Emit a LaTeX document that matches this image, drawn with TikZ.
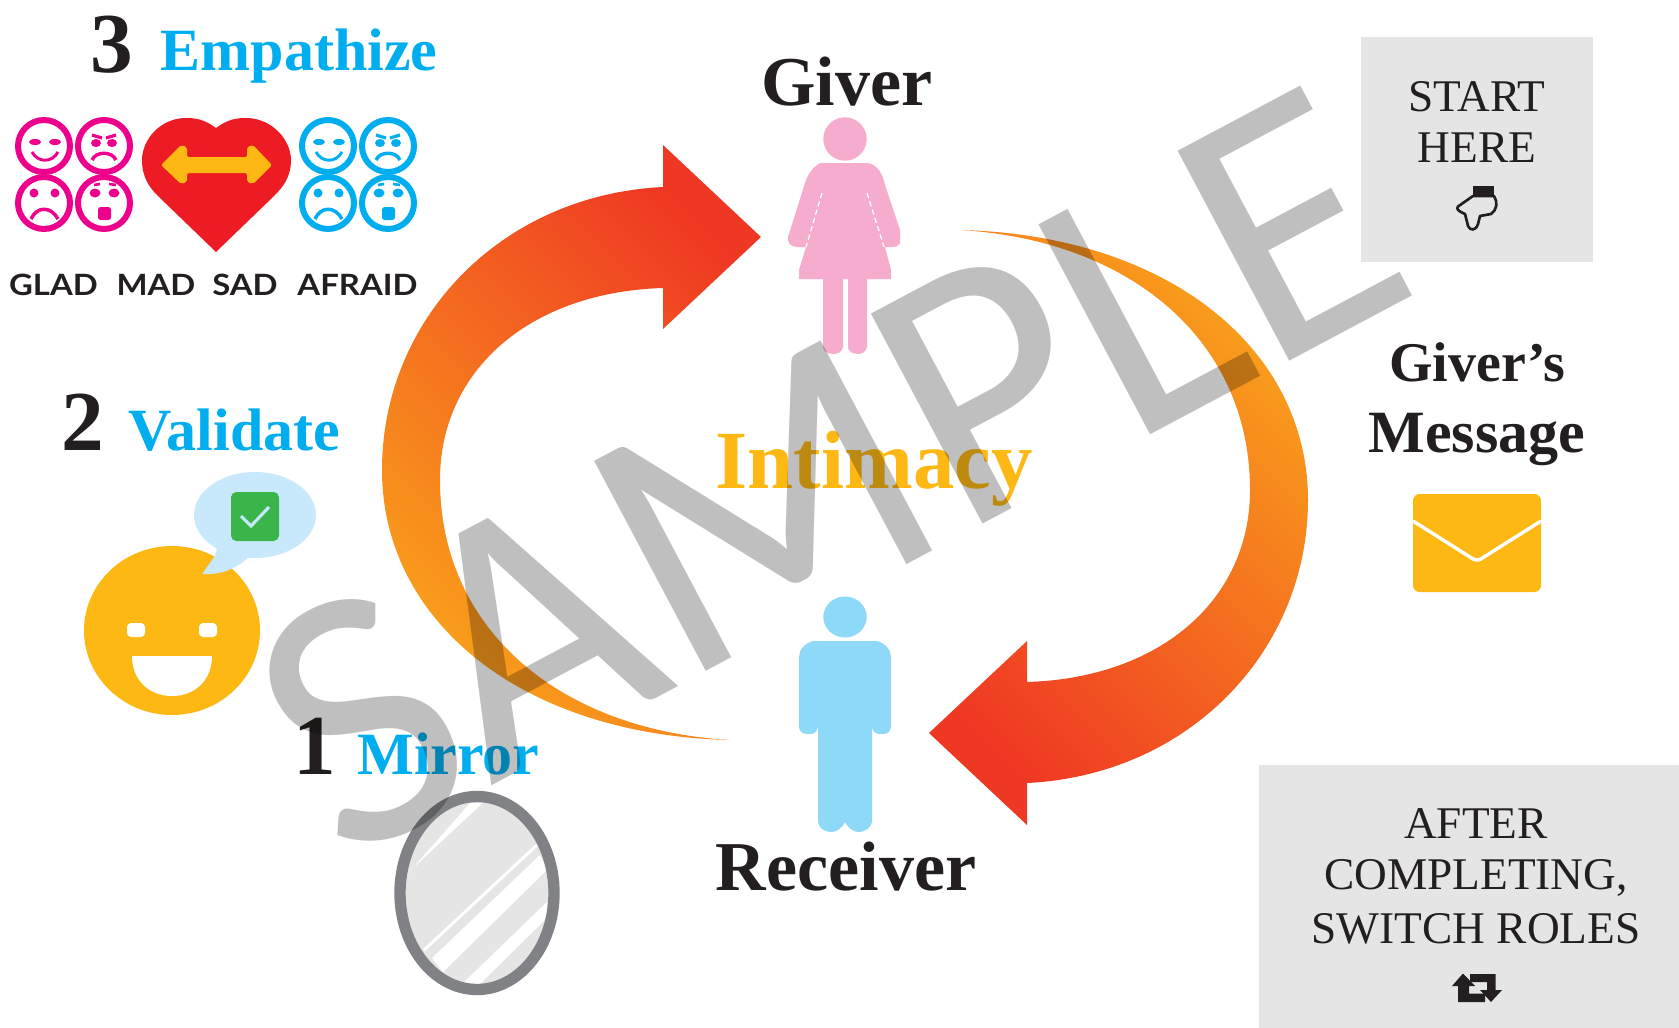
\documentclass[tikz,border=0pt]{standalone}
\usepackage{fontspec}
\setmainfont{Liberation Serif}
\newfontfamily\latofont[FakeStretch=1.12]{Lato}
\newfontfamily\wmfont{Carlito}
\usetikzlibrary{calc}
\definecolor{ink}{HTML}{231F20}
\definecolor{sky}{HTML}{00AEEF}
\definecolor{rosepink}{HTML}{EC008C}
\definecolor{gold}{HTML}{FDB813}
\definecolor{hred}{HTML}{ED1C24}
\definecolor{panel}{HTML}{E5E5E5}
\definecolor{womanpink}{HTML}{F6ADCD}
\definecolor{manblue}{HTML}{8ED8F8}
\definecolor{bubble}{HTML}{C7E9FB}
\definecolor{okgreen}{HTML}{39B54A}
\definecolor{mirrorgrey}{HTML}{808285}
\definecolor{wmgrey}{HTML}{BFBFBF}
\definecolor{arrowhot}{HTML}{EF3823}
\definecolor{arrowmid}{HTML}{F47820}
\definecolor{arrowwarm}{HTML}{F9A01B}
\newcommand\fs[1]{\fontsize{#1}{#1}\selectfont}
\tikzset{
  lbl/.style={inner sep=0pt,outer sep=0pt,anchor=base},
  numeral/.style={lbl,text=ink,font=\fs{64}\bfseries},
  skill/.style={lbl,text=sky,font=\fs{45}\bfseries},
  role/.style={lbl,text=ink,font=\fs{52.5}\bfseries},
  panelstyle/.style={fill=panel,draw=none},
  paneltext/.style={lbl,text=ink,font=\fs{34}},
  feel/.style={lbl,text=ink,font=\fs{22}\latofont\bfseries},
  cyclearrow/.style={top color=arrowhot,middle color=arrowmid,bottom color=arrowwarm,shading=axis},
}
\newcommand\facering[3]{% colour, cx, cy
  \draw[#1,line width=4.5pt] (#2,#3) circle[radius=26];
}
\newcommand\facegroup[3]{%
 \begin{scope}[shift={(#2,#3)}]
  \facering{#1}{0}{0}\facering{#1}{60}{0}\facering{#1}{0}{57}\facering{#1}{60}{57}
  % glad
  \fill[#1] (-9,-4) ellipse[x radius=6,y radius=3]; \fill[#1] (11,-4) ellipse[x radius=6,y radius=3];
  \draw[#1,line width=2.2pt] (-12,6) .. controls (-6,17) and (8,17) .. (14,6);
  % mad
  \draw[#1,line width=2.4pt] (48,-11) -- (58,-8); \draw[#1,line width=2.4pt] (72,-11) -- (62,-8);
  \fill[#1] (52,-3) ellipse[x radius=5,y radius=4]; \fill[#1] (68,-3) ellipse[x radius=5,y radius=4];
  \draw[#1,line width=2.6pt] (48,14) .. controls (52,5) and (68,5) .. (72,14);
  % sad
  \fill[#1] (-10,47) circle[radius=4.5]; \fill[#1] (11,47) circle[radius=4.5];
  \draw[#1,line width=2.6pt] (-13,73) .. controls (-7,60) and (7,60) .. (14,73);
  % afraid
  \fill[#1] (51,47) ellipse[x radius=5.5,y radius=4.5]; \fill[#1] (70,47) ellipse[x radius=5.5,y radius=4.5];
  \draw[#1,line width=2pt] (50,39) -- (56,38); \draw[#1,line width=2pt] (65,38) -- (72,39);
  \fill[#1,rounded corners=2pt] (54,61) rectangle (67,74);
 \end{scope}
}
\begin{document}
\begin{tikzpicture}[x=0.75pt,y=-0.75pt]
\useasboundingbox (0,0) rectangle (1679,1028);
\fill[white] (0,0) rectangle (1679,1028);

% panels
\fill[panelstyle] (1361,37) rectangle (1593,262);
\fill[panelstyle] (1259,765) rectangle (1679,1028);

% cycle arrows
\shade[cyclearrow,shading angle=-45]
  (761,237) -- (663,145) -- (663,187)
  .. controls (500,195) and (382,320) .. (382,470)
  .. controls (382,620) and (520,735) .. (730,740)
  .. controls (560,730) and (440,630) .. (440,480)
  .. controls (440,370) and (530,292) .. (663,288)
  -- (663,329) -- cycle;
\shade[cyclearrow,shading angle=135]
  (929,733) -- (1027,641) -- (1027,682)
  .. controls (1160,678) and (1250,600) .. (1250,490)
  .. controls (1250,340) and (1130,240) .. (960,230)
  .. controls (1170,235) and (1308,350) .. (1308,500)
  .. controls (1308,650) and (1190,775) .. (1027,783)
  -- (1027,825) -- cycle;

% Empathize block
\node[numeral] (n3) at (112,72) {3};
\node[skill] (empathize) at (299,70) {Empathize};
\facegroup{rosepink}{44}{146}
\facegroup{sky}{328}{146}
\fill[hred] (216,128) .. controls (204,119) and (195,118) .. (186,118) .. controls (160,118) and (142,140) .. (142,160) .. controls (142,178) and (150,188) .. (158,196) -- (216,252) -- (274,196) .. controls (282,188) and (291,178) .. (291,160) .. controls (291,140) and (272,118) .. (246,118) .. controls (237,118) and (228,119) .. (216,128) -- cycle;
\fill[gold,rounded corners=1.5pt] (161,165) -- (181,145) -- (187,147) -- (187,157) -- (247,157) -- (247,147) -- (253,145) -- (272,165) -- (253,184) -- (247,182) -- (247,173) -- (187,173) -- (187,182) -- (181,184) -- cycle;
\node[feel] (glad) at (53.5,295) {GLAD};
\node[feel] (mad) at (156,295) {MAD};
\node[feel] (sad) at (245,295) {SAD};
\node[feel] (afraid) at (357.5,295) {AFRAID};

% Validate block
\node[numeral] (n2) at (83,450) {2};
\node[skill] (validate) at (234.5,450) {Validate};
\fill[gold] (172,630.5) ellipse[x radius=88,y radius=84.5];
\fill[bubble] (255,515) ellipse[x radius=61,y radius=43];
\fill[bubble] (217,548) .. controls (216,558) and (208,564) .. (202.5,574) .. controls (220,575) and (235,570) .. (250,556) -- cycle;
\fill[okgreen,rounded corners=4pt] (231,492) rectangle (279,541);
\draw[bubble,line width=2.3pt] (241,516) -- (251,526) -- (269,507);
\fill[white,rounded corners=3pt] (127,623) rectangle (145,637);
\fill[white,rounded corners=3pt] (199,623) rectangle (217,637);
\fill[white] (132,656) -- (212,656) .. controls (212,680) and (195,696) .. (172,696) .. controls (149,696) and (132,680) .. (132,656) -- cycle;

% Mirror block
\node[numeral] (n1) at (315,774) {1};
\node[skill] (mirrorlbl) at (448.5,774) {Mirror};
\begin{scope}
  \clip (477,893) ellipse[x radius=77,y radius=97];
  \fill[panel] (477,893) ellipse[x radius=77,y radius=97];
  \fill[white] (406.7,875) -- (470,803) -- (483,802.7) -- (413,868) -- cycle;
  \draw[white,line width=2.2pt] (424,950) -- (537,845);
  \fill[white] (432,958) -- (540,855) -- (547,870) -- (443,972) -- cycle;
  \fill[white] (463,983) -- (547,902) -- (548,917) -- (480,984) -- cycle;
\end{scope}
\draw[mirrorgrey,line width=8.5pt] (477,893) ellipse[x radius=77,y radius=96.5];

% Giver figure
\node[role] (giver) at (847,105) {Giver};
\fill[womanpink] (845,139) circle[radius=21.7];
\fill[womanpink] (820,163) -- (868,163) .. controls (878,165) and (883,175) .. (885,185) -- (900,230) -- (900,243) .. controls (899,246) and (896,247) .. (892,247) -- (885,247) -- (891,270) -- (891,279) -- (867,279) -- (867,347) .. controls (866,352) and (862,354) .. (858,354) .. controls (852,354) and (848,351) .. (848,347) -- (848,279) -- (843,279) -- (843,347) .. controls (842,352) and (838,354) .. (833,354) .. controls (828,354) and (823,351) .. (823,347) -- (823,279) -- (799,279) -- (799,270) -- (806,247) -- (796,247) .. controls (790,247) and (787,241) .. (788,237) -- (805,183) .. controls (808,174) and (812,168) .. (820,163) -- cycle;
\draw[white,line width=.9pt,dashed,dash pattern=on 4pt off 2.5pt] (822,193) -- (806,247);
\draw[white,line width=.9pt,dashed,dash pattern=on 4pt off 2.5pt] (867,193) -- (884,247);

% Receiver figure
\fill[manblue] (845,617) ellipse[x radius=21.7,y radius=20.5];
\fill[manblue] (813,641) -- (877,641) .. controls (885,643) and (891,650) .. (891,657) -- (891,727) .. controls (891,732) and (886,735) .. (880,734) .. controls (876,734) and (873,732) .. (872,727) -- (872,822) .. controls (871,828) and (864,832) .. (859,832) .. controls (853,832) and (848,828) .. (845,822) .. controls (842,828) and (837,832) .. (831,832) .. controls (825,832) and (819,828) .. (818,822) -- (818,727) .. controls (817,732) and (814,734) .. (810,734) .. controls (804,735) and (799,732) .. (799,727) -- (799,657) .. controls (799,650) and (805,643) .. (813,641) -- cycle;
\node[role] (receiver) at (846,890) {Receiver};

% Centre word
\node[lbl,text=gold,font=\fs{62}\bfseries] (intimacy) at (874,488) {Intimacy};

% Start panel
\node[paneltext] (start) at (1477,111.5) {START};
\node[paneltext] (here) at (1477,162) {HERE};
\filldraw[panel,draw=ink,line width=2pt,line join=round] (1473,196) -- (1458,206.5) .. controls (1456,209) and (1458,211) .. (1465,214) -- (1468,226) .. controls (1470,231) and (1476,231) .. (1478,224) -- (1480,216) -- (1491,214) .. controls (1497,210) and (1498,202) .. (1494,196) -- cycle;
\fill[ink] (1472.5,186) rectangle (1493.5,196);

% Giver's message
\node[lbl,text=ink,font=\fs{42}\bfseries] (givers) at (1477.5,381.5) {Giver’s};
\node[lbl,text=ink,font=\fs{45}\bfseries] (message) at (1477,452.6) {Message};
\fill[gold,rounded corners=5pt] (1413,494) rectangle (1541,592);
\draw[white,line width=2.6pt] (1413,521) -- (1470,557) .. controls (1475,561) and (1479,561) .. (1484,557) -- (1541,521);

% Switch panel
\node[paneltext] (after) at (1476,838) {AFTER};
\node[paneltext] (completing) at (1476,889) {COMPLETING,};
\node[paneltext] (switch) at (1476,943) {SWITCH ROLES};
\fill[ink] (1463,973.5) -- (1475,986) -- (1469,986) -- (1469,993.5) -- (1485,993.5) -- (1485,1002) -- (1458,1002) -- (1458,986) -- (1452,986) -- cycle;
\fill[ink] (1491,1002) -- (1502,990) -- (1495.5,990) -- (1495.5,974) -- (1470,974) -- (1470,982) -- (1487,982) -- (1487,990) -- (1480,990) -- cycle;

% watermark
\begin{scope}[blend mode=multiply]
\node[inner sep=0pt,outer sep=0pt,anchor=base west,rotate=28,text=wmgrey,font=\fs{278}\wmfont] (sample) at (342.5,865) {SAMPLE};
\end{scope}
\end{tikzpicture}
\end{document}
